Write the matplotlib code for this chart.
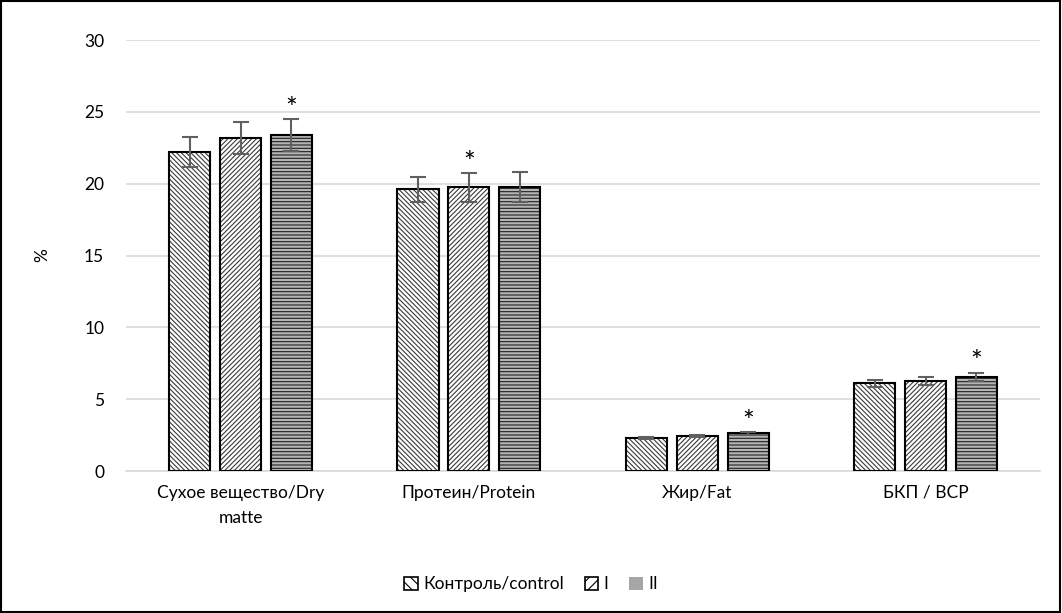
import matplotlib.pyplot as plt
import numpy as np
from matplotlib.patches import Rectangle

# data
categories = ['Сухое вещество/Dry\nmatte', 'Протеин/Protein', 'Жир/Fat', 'БКП / BCP']
series_names = ['Контроль/control', 'I', 'II']
control = [22.2, 19.6, 2.3, 6.1]
group_1 = [23.2, 19.75, 2.45, 6.25]
group_2 = [23.4, 19.75, 2.62, 6.55]
err_control = [1.05, 0.85, 0.08, 0.22]
err_1 = [1.1, 1.0, 0.08, 0.28]
err_2 = [1.1, 1.05, 0.08, 0.3]
# which bar has a star: (series index, category index)
stars = [(2, 0), (1, 1), (2, 2), (2, 3)]

plt.rcParams['font.family'] = ['Lato', 'DejaVu Sans']
plt.rcParams['hatch.linewidth'] = 0.8

fig = plt.figure(figsize=(10.62, 6.13), dpi=100)
ax = fig.add_axes([0.119, 0.2316, 0.86, 0.7031])

vals = [control, group_1, group_2]
errs = [err_control, err_1, err_2]
hatches = ['\\' * 7, '/' * 7, '-' * 5]
faces = ['white', 'white', '#b4b4b4']
hcol = ['#3a3a3a', '#3a3a3a', '#222222']

x = np.arange(len(categories))
w = 0.18
step = 0.223
for i in range(3):
    pos = x + (i - 1) * step
    bars = ax.bar(pos, vals[i], w, color=faces[i], edgecolor='black', linewidth=1.5,
                  hatch=hatches[i], zorder=3)
    for b in bars:
        b._hatch_color = plt.matplotlib.colors.to_rgba(hcol[i])
    ax.errorbar(pos, vals[i], yerr=errs[i], fmt='none', ecolor='#606060',
                elinewidth=1.5, capsize=6, capthick=1.5, zorder=4)

for s, c in stars:
    top = vals[s][c] + errs[s][c]
    ax.text(x[c] + (s - 1) * step, top - 0.25, '*', ha='center', va='bottom',
            fontsize=20, zorder=5)

ax.set_ylim(0, 30)
ax.set_yticks(range(0, 31, 5))
ax.set_xlim(-0.5, 3.5)
ax.set_xticks(x)
ax.set_xticklabels(categories, fontsize=12.5, linespacing=1.7)
ax.tick_params(axis='y', labelsize=12.5, length=0, pad=16)
ax.tick_params(axis='x', length=0, pad=10)
ax.grid(axis='y', color='#d9d9d9', linewidth=1.2, zorder=0)
ax.set_axisbelow(True)
for sp in ['top', 'right', 'left']:
    ax.spines[sp].set_visible(False)
ax.spines['bottom'].set_color('#d9d9d9')
ax.spines['bottom'].set_linewidth(1.2)
ax.set_ylabel('%', fontsize=12.5, labelpad=24)

# legend handles: hatched boxes for control and I, plain grey square for II
handles = [
    Rectangle((0, 0), 1, 1, facecolor='white', edgecolor='black', hatch='\\\\\\', linewidth=1.2),
    Rectangle((0, 0), 1, 1, facecolor='white', edgecolor='black', hatch='///', linewidth=1.2),
    Rectangle((0, 0), 1, 1, facecolor='#a6a6a6', edgecolor='none'),
]
fig.legend(handles, series_names, loc='center', bbox_to_anchor=(0.5, 0.047), ncol=3,
           frameon=False, fontsize=12.5, handlelength=0.8, handleheight=0.8,
           handletextpad=0.3, columnspacing=1.2)

fig.patches.append(Rectangle((0.001, 0.001), 0.997, 0.997, transform=fig.transFigure,
                             fill=False, edgecolor='black', linewidth=1.5))

fig.savefig('out.png', dpi=100)
